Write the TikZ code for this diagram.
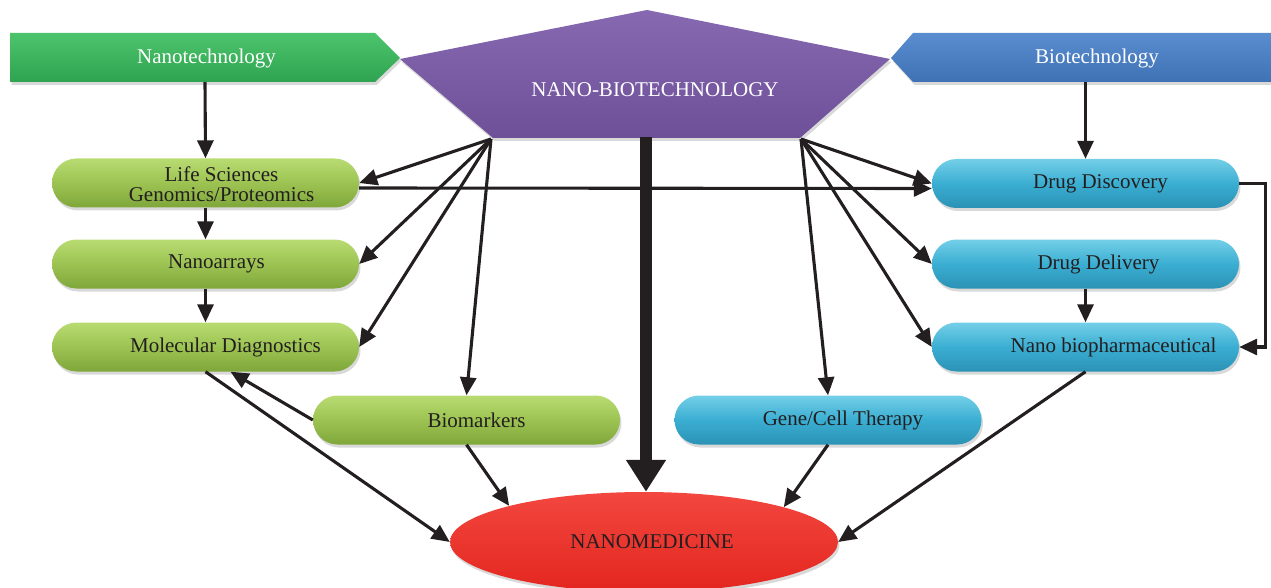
\documentclass[tikz,border=0pt]{standalone}
\usepackage{fontspec}
\setmainfont{Liberation Serif}
\usetikzlibrary{arrows.meta,shapes.geometric,shadows}
\definecolor{gbanT}{HTML}{4CC46C}
\definecolor{gbanB}{HTML}{2FA350}
\definecolor{bbanT}{HTML}{5A8DD0}
\definecolor{bbanB}{HTML}{3F72B5}
\definecolor{purT}{HTML}{8769B2}
\definecolor{purB}{HTML}{6E5099}
\definecolor{gpT}{HTML}{B9DB72}
\definecolor{gpM}{HTML}{9CC352}
\definecolor{gpB}{HTML}{7FA63A}
\definecolor{bpT}{HTML}{74CFE8}
\definecolor{bpM}{HTML}{3AAED2}
\definecolor{bpB}{HTML}{2B92B5}
\definecolor{redT}{HTML}{F2473F}
\definecolor{redB}{HTML}{E3261F}
\definecolor{txt}{HTML}{231F20}
\begin{document}
\begin{tikzpicture}[x=1pt,y=-1pt,font=\fontsize{21}{23}\selectfont,
  arr/.style={line width=3.1pt,draw=txt,-{Triangle[length=18pt,width=16pt]}},
  bigarr/.style={line width=12pt,draw=txt,-{Triangle[length=32pt,width=38pt]}},
  pill/.style={rectangle,rounded corners=24.5pt,minimum width=307pt,minimum height=49pt,inner sep=0pt,
    drop shadow={opacity=0.3,shadow xshift=1.5pt,shadow yshift=-3pt}},
  gpill/.style={pill,top color=gpT,bottom color=gpB,middle color=gpM},
  bpill/.style={pill,top color=bpT,bottom color=bpB,middle color=bpM},
  body/.style={rectangle,inner sep=0pt,minimum height=49pt},
  ptxt/.style={text=txt},
  wtxt/.style={text=white}]
\useasboundingbox (0,0) rectangle (1271,588);
% banners and pentagon
\shade[top color=gbanT,bottom color=gbanB,drop shadow={opacity=0.3,shadow xshift=1.5pt,shadow yshift=-3pt}]
  (10,33) -- (375,33) -- (400,58) -- (375,82) -- (10,82) -- cycle;
\shade[top color=bbanT,bottom color=bbanB,drop shadow={opacity=0.3,shadow xshift=1.5pt,shadow yshift=-3pt}]
  (1271,33) -- (913,33) -- (891,58) -- (913,82) -- (1271,82) -- cycle;
\shade[top color=purT,bottom color=purB,drop shadow={opacity=0.3,shadow xshift=1.5pt,shadow yshift=-3pt}]
  (647,10) -- (890,59) -- (800,138) -- (493,138) -- (400,59) -- cycle;
\node[body,minimum width=365pt,label={[wtxt,xshift=14pt,yshift=-1pt]center:Nanotechnology}] (nt) at (192.5,57.5) {};
\node[body,minimum width=358pt,label={[wtxt,xshift=5pt,yshift=-1pt]center:Biotechnology}] (bt) at (1092,57.5) {};
\node[wtxt] (nb) at (655,90) {NANO-BIOTECHNOLOGY};
\coordinate (pbl) at (491,139);
\coordinate (pbr) at (801,139);
\coordinate (pbm) at (646,137);
% pills
\node[gpill,label={[ptxt,xshift=16pt,yshift=-1pt,align=center,font=\fontsize{21}{20}\selectfont]center:{Life Sciences\\Genomics/Proteomics}}] (ls) at (205.5,183) {};
\node[gpill,label={[ptxt,xshift=11pt]center:Nanoarrays}] (na) at (205.5,264) {};
\node[gpill,label={[ptxt,xshift=20pt]center:Molecular Diagnostics}] (md) at (205.5,347) {};
\node[gpill,label={[ptxt,xshift=10pt]center:Biomarkers}] (bm) at (466.5,420) {};
\node[bpill,label={[ptxt,xshift=15pt]center:Gene/Cell Therapy}] (gc) at (828,420) {};
\node[bpill,label={[ptxt,xshift=15pt]center:Drug Discovery}] (dd) at (1085.5,183.5) {};
\node[bpill,label={[ptxt,xshift=13pt]center:Drug Delivery}] (dl) at (1085.5,264) {};
\node[bpill,label={[ptxt,xshift=28pt]center:Nano biopharmaceutical}] (np) at (1085.5,347) {};
\node[ellipse,minimum width=388pt,minimum height=100pt,inner sep=0pt,top color=redT,bottom color=redB,
  drop shadow={opacity=0.3,shadow xshift=1.5pt,shadow yshift=-3pt},
  label={[ptxt,xshift=8pt]center:NANOMEDICINE}] (nm) at (644,542) {};
% connectors
\draw[arr] ([xshift=12.5pt]nt.south) -- (ls.north);
\draw[arr] ([xshift=-6.5pt]bt.south) -- (dd.north);
\draw[arr] (ls.south) -- (na.north);
\draw[arr] (na.south) -- (md.north);
\draw[arr] (dl.south) -- (np.north);
\draw[arr] (pbl) -- (ls.east);
\draw[arr] (pbl) -- (na.east);
\draw[arr] (pbl) -- (md.east);
\draw[arr] (pbl) -- (bm.north);
\draw[arr] (pbr) -- (dd.west);
\draw[arr] (pbr) -- (dl.west);
\draw[arr] (pbr) -- (np.west);
\draw[arr] (pbr) -- (gc.north);
\draw[arr] ([yshift=-5pt]ls.east) -- ([yshift=-5pt]dd.west);
\draw[arr] (dd.east) -- ++(26,0) |- (np.east);
\draw[arr] (md.south) -- (nm.west);
\draw[arr] (bm.west) -- ([xshift=25pt]md.south);
\draw[arr] (bm.south) -- (nm.165);
\draw[arr] (gc.south) -- (nm.14);
\draw[arr] (np.south) -- (nm.east);
\draw[bigarr] (pbm) -- (pbm |- nm.north);
\end{tikzpicture}
\end{document}
